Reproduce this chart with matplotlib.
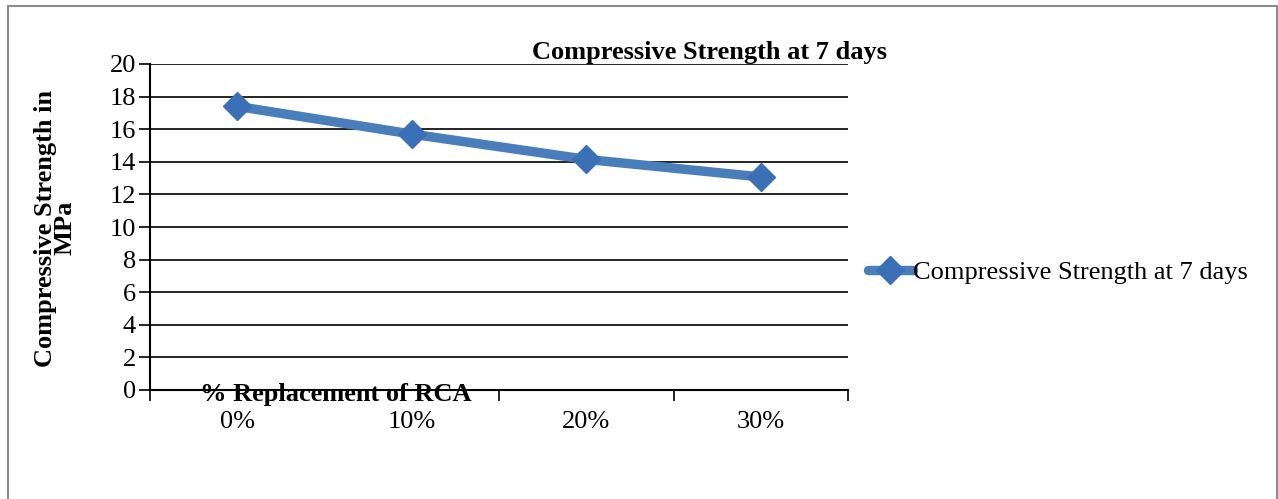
import matplotlib
matplotlib.use('Agg')
import matplotlib.pyplot as plt
from matplotlib.patches import Rectangle

categories = ['0%', '10%', '20%', '30%']
strength = [17.4, 15.7, 14.15, 13.07]
series_name = 'Compressive Strength at 7 days'
y_ticks = list(range(0, 21, 2))

plt.rcParams['font.family'] = ['Liberation Serif', 'DejaVu Serif']
FS = 19

fig = plt.figure(figsize=(12.78, 4.99), dpi=100)
# chart area frame
fig.patches.append(Rectangle((8 / 1278, -0.05), 1269 / 1278, 1 - 6 / 499 + 0.05,
                             transform=fig.transFigure, fill=False,
                             edgecolor='#8c8c8c', lw=1.5))

ax = fig.add_axes([150 / 1278, 1 - 390 / 499, 698 / 1278, 326 / 499])
x = range(len(categories))
ax.plot(x, strength, color='#4a7ebb', lw=6.8, marker='D', ms=14,
        mfc='#3b6fb6', mec='#3b6fb6', label=series_name, solid_capstyle='round')

ax.set_xlim(-0.5, len(categories) - 0.5)
ax.set_ylim(0, 20)
ax.set_yticks(y_ticks)
ax.set_yticklabels([str(v) for v in y_ticks], fontsize=FS)
ax.yaxis.grid(True, color='black', lw=1.2)
ax.set_axisbelow(True)

# category axis: ticks between categories, labels centred
ax.set_xticks([i - 0.5 for i in range(len(categories) + 1)])
ax.set_xticklabels([])
ax.set_xticks(list(x), minor=True)
ax.set_xticklabels(categories, minor=True, fontsize=FS)
ax.tick_params(axis='x', which='major', direction='out', length=8, width=1.2)
ax.tick_params(axis='x', which='minor', length=0, pad=15)
ax.tick_params(axis='y', direction='out', length=8, width=1.2, pad=2)

for side in ['top', 'right']:
    ax.spines[side].set_visible(False)
ax.spines['left'].set_linewidth(1.5)
ax.spines['bottom'].set_linewidth(1.5)

fig.text(709 / 1278, 1 - 52 / 499, series_name, ha='center', va='center',
         fontsize=FS, fontweight='bold')
fig.text(336 / 1278, 1 - 394 / 499, '% Replacement of RCA', ha='center', va='center',
         fontsize=FS, fontweight='bold')
fig.text(55 / 1278, 1 - 228 / 499, 'Compressive Strength in\nMPa', ha='center',
         va='center', rotation=90, fontsize=FS, fontweight='bold', linespacing=0.8)

ax.legend(loc='center left', bbox_to_anchor=(868 / 1278, 1 - 272 / 499),
          bbox_transform=fig.transFigure, frameon=False, borderpad=0,
          fontsize=FS, handlelength=1.7, handletextpad=0.0, borderaxespad=0)

fig.savefig('out.png', dpi=100)
